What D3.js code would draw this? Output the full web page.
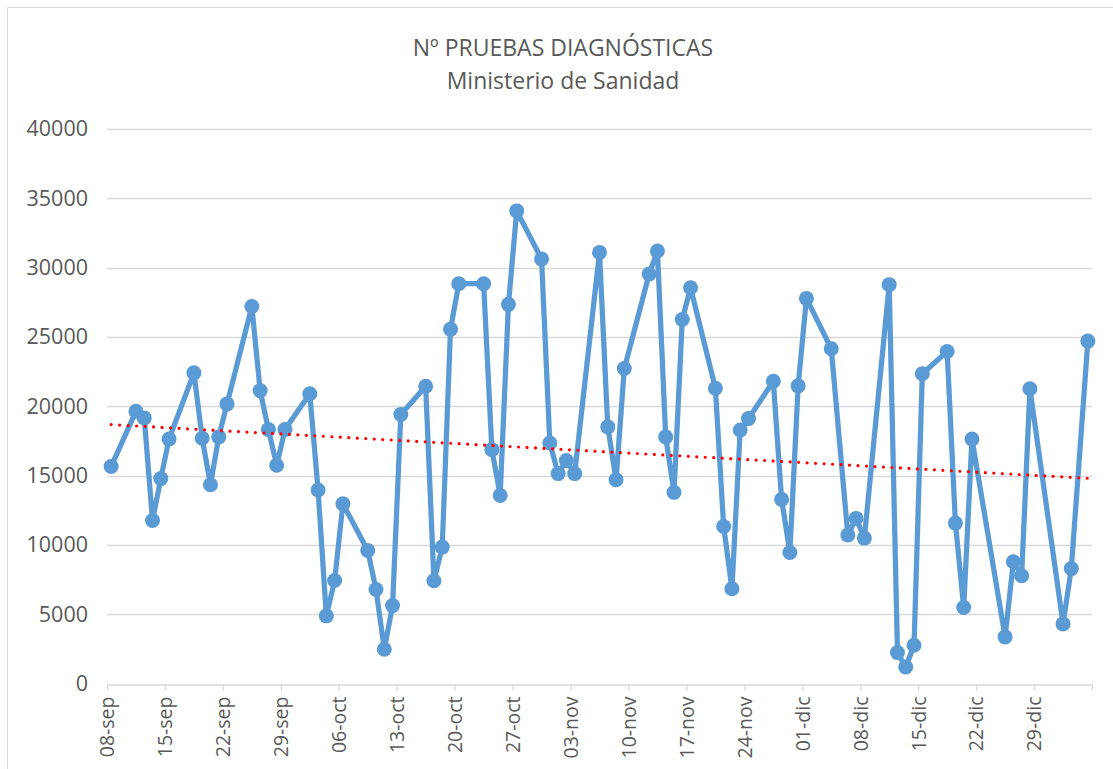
<!DOCTYPE html>
<html><head><meta charset="utf-8">
<script src="https://cdn.jsdelivr.net/npm/d3@7"></script>
<style>
html,body{margin:0;padding:0;background:#fff;}
svg text{font-family:"Open Sans",sans-serif;fill:#595959;}
</style></head>
<body>
<svg id="chart" width="1113" height="769"></svg>
<script>
const titleLines = ["Nº PRUEBAS DIAGNÓSTICAS", "Ministerio de Sanidad"];
const dates = ["2020-09-08","2020-09-11","2020-09-12","2020-09-13","2020-09-14","2020-09-15",
"2020-09-18","2020-09-19","2020-09-20","2020-09-21","2020-09-22",
"2020-09-25","2020-09-26","2020-09-27","2020-09-28","2020-09-29",
"2020-10-02","2020-10-03","2020-10-04","2020-10-05","2020-10-06",
"2020-10-09","2020-10-10","2020-10-11","2020-10-12","2020-10-13",
"2020-10-16","2020-10-17","2020-10-18","2020-10-19","2020-10-20",
"2020-10-23","2020-10-24","2020-10-25","2020-10-26","2020-10-27",
"2020-10-30","2020-10-31","2020-11-01","2020-11-02","2020-11-03",
"2020-11-06","2020-11-07","2020-11-08","2020-11-09",
"2020-11-12","2020-11-13","2020-11-14","2020-11-15","2020-11-16","2020-11-17",
"2020-11-20","2020-11-21","2020-11-22","2020-11-23","2020-11-24",
"2020-11-27","2020-11-28","2020-11-29","2020-11-30","2020-12-01",
"2020-12-04","2020-12-06","2020-12-07","2020-12-08",
"2020-12-11","2020-12-12","2020-12-13","2020-12-14","2020-12-15",
"2020-12-18","2020-12-19","2020-12-20","2020-12-21",
"2020-12-25","2020-12-26","2020-12-27","2020-12-28",
"2021-01-01","2021-01-02","2021-01-04"];
const pruebas = [15650,19640,19160,11760,14780,17640,
22410,17690,14340,17790,20170,
27200,21130,18320,15740,18320,
20900,13960,4880,7430,12970,
9600,6780,2470,5620,19400,
21440,7410,9840,25560,28840,
28840,16870,13570,27350,34090,
30620,17350,15140,16080,15140,
31100,18510,14700,22720,
29540,31200,17790,13790,26260,28550,
21300,11330,6830,18290,19110,
21800,13280,9450,21470,27780,
24150,10710,11910,10490,
28770,2230,1190,2760,22340,
23950,11570,5480,17640,
3360,8780,7770,21260,
4300,8290,24700];
const axisStart = "2020-09-08", axisEnd = "2021-01-05";
const yTicks = [0,5000,10000,15000,20000,25000,30000,35000,40000];
const monthNames = ["ene","feb","mar","abr","may","jun","jul","ago","sep","oct","nov","dic"];

const parse = d3.utcParse("%Y-%m-%d");
const data = dates.map((d,i)=>({date: parse(d), v: pruebas[i]}));
const svg = d3.select("#chart");

const x = d3.scaleUtc().domain([parse(axisStart), parse(axisEnd)]).range([107, 1092]);
const y = d3.scaleLinear().domain([0, 40000]).range([683.5, 129]);
const mid = d => d3.utcHour.offset(d, 12);

// border
svg.append("path").attr("d","M7.5,800 V7.5 H1200").attr("fill","none").attr("stroke","#d9d9d9").attr("stroke-width",1);

// title
svg.append("text").attr("x",563).attr("y",56).attr("text-anchor","middle").style("font-size","23px").text(titleLines[0]);
svg.append("text").attr("x",563).attr("y",89).attr("text-anchor","middle").style("font-size","23px").text(titleLines[1]);

// gridlines
svg.append("g").selectAll("line").data(yTicks.filter(t=>t>0)).join("line")
  .attr("x1",107).attr("x2",1092).attr("y1",d=>Math.round(y(d))+0.5).attr("y2",d=>Math.round(y(d))+0.5)
  .attr("stroke","#d9d9d9").attr("stroke-width",1.3);

// y labels
const yAxis = d3.axisLeft(y).tickValues(yTicks).tickSize(0).tickPadding(19).tickFormat(d3.format("d"));
const gy = svg.append("g").attr("transform","translate(107,0)").call(yAxis);
gy.select(".domain").remove();
gy.selectAll("text").style("font-size","21.5px").attr("fill","#595959").style("font-family","'Open Sans',sans-serif");

// x axis
const xTickVals = d3.utcDay.range(parse(axisStart), d3.utcDay.offset(parse(axisEnd),1), 7);
const xAxis = d3.axisBottom(x).tickValues(xTickVals).tickSize(6).tickSizeOuter(0)
  .tickFormat((d,i)=> i===xTickVals.length-1 ? "" : d3.utcFormat("%d")(d)+"-"+monthNames[d.getUTCMonth()]);
const gx = svg.append("g").attr("transform","translate(0,"+(Math.round(y(0))+0.5)+")").call(xAxis);
gx.select(".domain").attr("stroke","#d9d9d9").attr("stroke-width",1.3);
gx.selectAll(".tick line").attr("stroke","#d9d9d9").attr("stroke-width",1.3);
gx.selectAll("text").attr("transform","rotate(-90)").attr("text-anchor","end")
  .attr("x",-12).attr("y",0).attr("dy","0.35em").style("font-size","19.5px")
  .attr("fill","#595959").style("font-family","'Open Sans',sans-serif");

// series line
const line = d3.line().x(d=>x(mid(d.date))).y(d=>y(d.v));
svg.append("path").datum(data).attr("d",line).attr("fill","none")
  .attr("stroke","#5b9bd5").attr("stroke-width",5.25).attr("stroke-linejoin","round");
svg.append("g").selectAll("circle").data(data).join("circle")
  .attr("cx",d=>x(mid(d.date))).attr("cy",d=>y(d.v)).attr("r",7.5).attr("fill","#5b9bd5");

// linear trendline (least squares on date)
const xs = data.map(d=>+d.date), ys = data.map(d=>d.v);
const mx = d3.mean(xs), my = d3.mean(ys);
const slope = d3.sum(xs.map((xv,i)=>(xv-mx)*(ys[i]-my))) / d3.sum(xs.map(xv=>(xv-mx)*(xv-mx)));
const icpt = my - slope*mx;
const ends = [data[0].date, data[data.length-1].date];
svg.append("path").datum(ends)
  .attr("d", d3.line().x(d=>x(mid(d))).y(d=>y(icpt + slope*(+d))))
  .attr("fill","none").attr("stroke","#ff0000").attr("stroke-width",3.2)
  .attr("stroke-linecap","round").attr("stroke-dasharray","0 8.5");
</script>
</body></html>
